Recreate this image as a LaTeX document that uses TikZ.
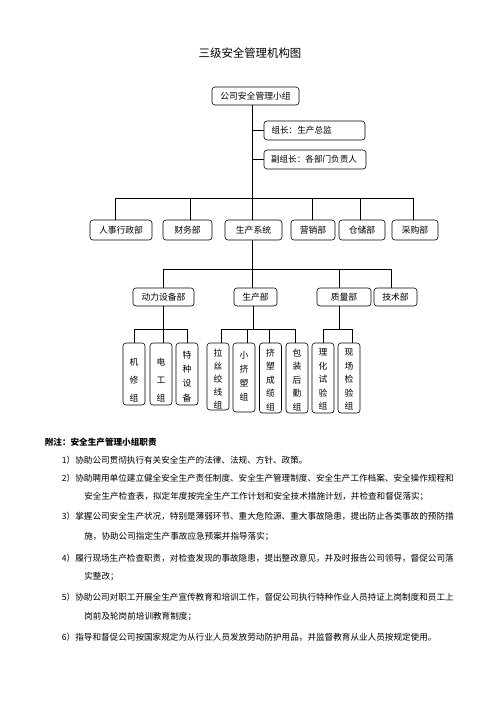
\documentclass[tikz,border=0pt]{standalone}
\usepackage{fontspec}
\setmainfont{Noto Sans CJK SC}
\begin{document}
\begin{tikzpicture}[x=1pt,y=-1pt,line width=0.6pt,
  box/.style={draw,rounded corners=3pt,inner sep=0pt,font=\fontsize{8.8}{10}\selectfont},
  vbox/.style={draw,rounded corners=3pt,inner sep=0pt,minimum width=22pt},
  vtxt/.style={inner sep=0pt,anchor=north,align=center},
  para/.style={anchor=west,inner sep=0pt,font=\fontsize{8.6}{10}\selectfont},
  conn/.style={line width=0.7pt}]
\useasboundingbox (0,0) rectangle (496,702);

\node[font=\fontsize{11.4}{12}\selectfont] (title) at (250,53) {三级安全管理机构图};

% top
\node[box,minimum width=87pt,minimum height=18pt] (top) at (255.5,96) {公司安全管理小组};
\node[box,minimum width=101pt,minimum height=19pt,text width=86pt,align=left,font=\fontsize{8.6}{10}\selectfont] (zz) at (314.5,130.5) {组长：生产总监};
\node[box,minimum width=102pt,minimum height=19pt,text width=88pt,align=left,font=\fontsize{8.6}{10}\selectfont] (fz) at (315,159.5) {副组长：各部门负责人};

% level 2
\node[box,minimum width=62pt,minimum height=20pt] (hr) at (121,230) {人事行政部};
\node[box,minimum width=49pt,minimum height=20pt] (fin) at (187.5,230) {财务部};
\node[box,minimum width=57pt,minimum height=20pt] (sys) at (253.5,230) {生产系统};
\node[box,minimum width=44pt,minimum height=20pt] (mkt) at (313,230) {营销部};
\node[box,minimum width=46pt,minimum height=20pt] (stor) at (362,230) {仓储部};
\node[box,minimum width=46pt,minimum height=20pt] (pur) at (415,230) {采购部};

% level 3
\node[box,minimum width=61pt,minimum height=18pt] (pw) at (163.5,297) {动力设备部};
\node[box,minimum width=43pt,minimum height=18pt] (pd) at (255.5,297) {生产部};
\node[box,minimum width=54pt,minimum height=18pt] (qa) at (344,297) {质量部};
\node[box,minimum width=43pt,minimum height=18pt] (tech) at (395.5,297) {技术部};

% level 4 boxes
\node[vbox,minimum height=62pt] (jx) at (134,374) {};
\node[vbox,minimum height=62pt] (dg) at (161,374) {};
\node[vbox,minimum height=62pt] (tz) at (187,374) {};
\node[vbox,minimum height=67pt] (ls) at (218,376.5) {};
\node[vbox,minimum height=69pt] (xj) at (244,377.5) {};
\node[vbox,minimum height=70pt] (jc) at (270.5,378) {};
\node[vbox,minimum height=70pt] (bz) at (297,378) {};
\node[vbox,minimum height=70pt] (lh) at (323,378) {};
\node[vbox,minimum height=70pt] (xc) at (349,378) {};

\node[vtxt,font=\fontsize{8.8}{18}\selectfont] (jxt) at (134,357.5) {机\\修\\组};
\node[vtxt,font=\fontsize{8.8}{18}\selectfont] (dgt) at (161,357.5) {电\\工\\组};
\node[vtxt,font=\fontsize{8.8}{14.3}\selectfont] (tzt) at (187,350.5) {特\\种\\设\\备};
\node[vtxt,font=\fontsize{8.8}{13.1}\selectfont] (lst) at (218,348.5) {拉\\丝\\绞\\线\\组};
\node[vtxt,font=\fontsize{8.8}{14}\selectfont] (xjt) at (244,350.5) {小\\挤\\塑\\组};
\node[vtxt,font=\fontsize{8.8}{13.5}\selectfont] (jct) at (270.5,348.5) {挤\\塑\\成\\缆\\组};
\node[vtxt,font=\fontsize{8.8}{13.5}\selectfont] (bzt) at (297,348.5) {包\\装\\后\\勤\\组};
\node[vtxt,font=\fontsize{8.8}{13.5}\selectfont] (lht) at (323,348.5) {理\\化\\试\\验\\组};
\node[vtxt,font=\fontsize{8.8}{13.5}\selectfont] (xct) at (349,348.5) {现\\场\\检\\验\\组};

% bus coordinates
\coordinate (b1) at (252,198);
\coordinate (b3) at (252,269);
\coordinate (b4) at (164,329);

% connectors level 1
\draw[conn] (top.south -| b1) -- (b1);
\draw[conn] (zz.west -| b1) -- (zz.west);
\draw[conn] (fz.west -| b1) -- (fz.west);
\draw[conn] ([xshift=-6pt]hr.north |- b1) -- ([xshift=-2pt]pur.north |- b1);
\draw[conn] ([xshift=-6pt]hr.north |- b1) -- ([xshift=-6pt]hr.north);
\draw[conn] ([xshift=2.5pt]fin.north |- b1) -- ([xshift=2.5pt]fin.north);
\draw[conn] (b1) -- (sys.north -| b1);
\draw[conn] ([xshift=-1pt]mkt.north |- b1) -- ([xshift=-1pt]mkt.north);
\draw[conn] ([xshift=-2pt]stor.north |- b1) -- ([xshift=-2pt]stor.north);
\draw[conn] ([xshift=-2pt]pur.north |- b1) -- ([xshift=-2pt]pur.north);

% connectors level 2
\draw[conn] (sys.south -| b3) -- (b3);
\draw[conn] (pw.north |- b3) -- ([xshift=-4.5pt]tech.north |- b3);
\draw[conn] (pw.north |- b3) -- (pw.north);
\draw[conn] (b3) -- (pd.north -| b3);
\draw[conn] ([xshift=-5pt]qa.north |- b3) -- ([xshift=-5pt]qa.north);
\draw[conn] ([xshift=-4.5pt]tech.north |- b3) -- ([xshift=-4.5pt]tech.north);

% connectors level 3
\draw[conn] (pw.south) -- (dg.north -| pw.south);
\draw[conn] (jx.north |- b4) -- (tz.north |- b4);
\draw[conn] (jx.north |- b4) -- (jx.north);
\draw[conn] (tz.north |- b4) -- (tz.north);

\draw[conn] ([xshift=-2.5pt]pd.south) -- ([xshift=-2.5pt]pd.south |- b4);
\draw[conn] ([xshift=3pt]ls.north |- b4) -- ([xshift=-2pt]bz.north |- b4);
\draw[conn] ([xshift=3pt]ls.north |- b4) -- ([xshift=3pt]ls.north);
\draw[conn] ([xshift=3pt]xj.north |- b4) -- ([xshift=3pt]xj.north);
\draw[conn] ([xshift=-1.5pt]jc.north |- b4) -- ([xshift=-1.5pt]jc.north);
\draw[conn] ([xshift=-2pt]bz.north |- b4) -- ([xshift=-2pt]bz.north);

\draw[conn] ([xshift=-5pt]qa.south) -- ([xshift=-5pt]qa.south |- b4);
\draw[conn] (lh.north |- b4) -- ([xshift=3pt]xc.north |- b4);
\draw[conn] (lh.north |- b4) -- (lh.north);
\draw[conn] ([xshift=3pt]xc.north |- b4) -- ([xshift=3pt]xc.north);

% notes
\node[para,font=\bfseries\fontsize{8.6}{10}\selectfont] (note) at (44.5,442) {附注：安全生产管理小组职责};
\node[para] (n1) at (61.5,460) {1）};
\node[para] (t1) at (75,460) {协助公司贯彻执行有关安全生产的法律、法规、方针、政策。};
\node[para] (n2) at (61.5,478) {2）};
\node[para] (t2) at (75,478) {协助聘用单位建立健全安全生产责任制度、安全生产管理制度、安全生产工作档案、安全操作规程和};
\node[para] (t2b) at (84,497) {安全生产检查表，拟定年度按完全生产工作计划和安全技术措施计划，并检查和督促落实；};
\node[para] (n3) at (61.5,516) {3）};
\node[para] (t3) at (75,516) {掌握公司安全生产状况，特别是薄弱环节、重大危险源、重大事故隐患，提出防止各类事故的预防措};
\node[para] (t3b) at (84,537) {施，协助公司指定生产事故应急预案并指导落实；};
\node[para] (n4) at (61.5,558) {4）};
\node[para] (t4) at (75,558) {履行现场生产检查职责，对检查发现的事故隐患，提出整改意见，并及时报告公司领导，督促公司落};
\node[para] (t4b) at (84,577) {实整改；};
\node[para] (n5) at (61.5,597) {5）};
\node[para] (t5) at (75,597) {协助公司对职工开展全生产宣传教育和培训工作，督促公司执行特种作业人员持证上岗制度和员工上};
\node[para] (t5b) at (84,617) {岗前及轮岗前培训教育制度；};
\node[para] (n6) at (61.5,637) {6）};
\node[para] (t6) at (75,637) {指导和督促公司按国家规定为从行业人员发放劳动防护用品，并监督教育从业人员按规定使用。};
\end{tikzpicture}
\end{document}
